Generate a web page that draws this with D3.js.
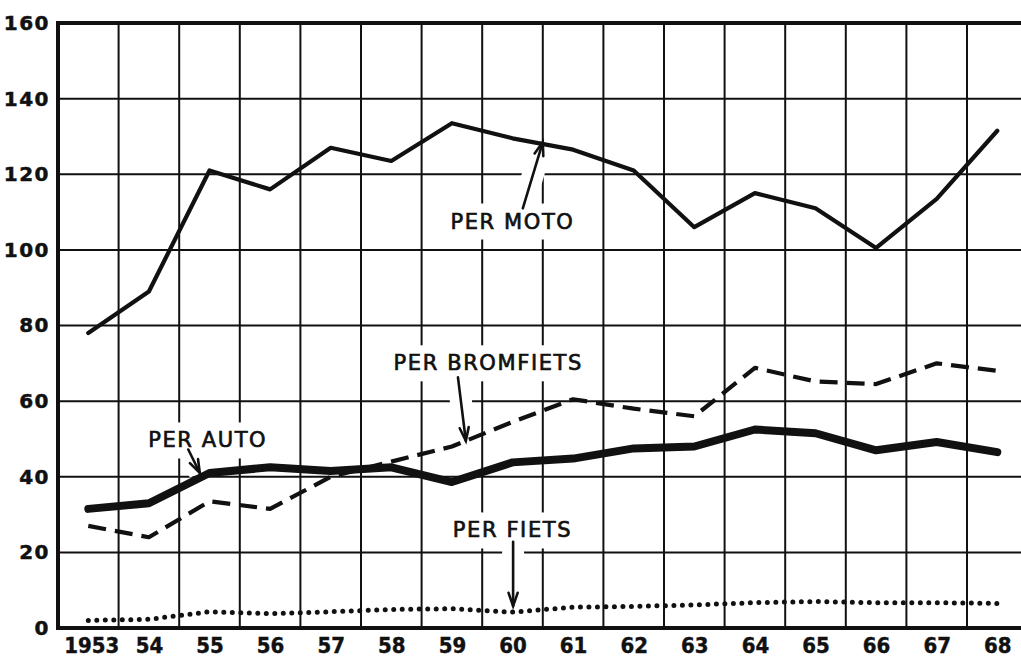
<!DOCTYPE html>
<html>
<head>
<meta charset="utf-8">
<script src="https://cdn.jsdelivr.net/npm/d3@7"></script>
<style>
  html, body { margin: 0; padding: 0; background: #fff; }
  svg { display: block; }
</style>
</head>
<body>
<svg id="chart" width="1021" height="660"></svg>
<script>
// years on the x axis
const years = [1953, 1954, 1955, 1956, 1957, 1958, 1959, 1960, 1961, 1962, 1963, 1964, 1965, 1966, 1967, 1968];
const yearLabels = ['1953', '54', '55', '56', '57', '58', '59', '60', '61', '62', '63', '64', '65', '66', '67', '68'];
const yTicks = [0, 20, 40, 60, 80, 100, 120, 140, 160];

const perMoto = [78, 89, 121, 116, 127, 123.5, 133.5, 129.5, 126.5, 121, 106, 115, 111, 100.5, 113.5, 131.5];
const perBromfiets = [27, 24, 33.5, 31.5, 40, 44, 48, 54.5, 60.5, 58, 56, 68.8, 65.2, 64.5, 70, 68];
const perAuto = [31.5, 33, 41, 42.5, 41.5, 42.5, 38.6, 43.8, 44.8, 47.5, 48, 52.5, 51.5, 47, 49.2, 46.5];
const perFiets = [2, 2.3, 4.3, 3.8, 4.3, 4.9, 5.1, 4.2, 5.5, 5.7, 6.1, 6.7, 7, 6.7, 6.7, 6.5];

// label text, text anchor and arrow (tail -> head) in data units
const labels = [
  { text: 'PER MOTO', at: [1960.0, 107.5], from: [1960.17, 111], to: [1960.5, 128.5] },
  { text: 'PER BROMFIETS', at: [1959.6, 70], from: [1959.1, 66.3], to: [1959.23, 49.5] },
  { text: 'PER AUTO', at: [1954.97, 49.6], from: [1954.65, 47.2], to: [1954.84, 41] },
  { text: 'PER FIETS', at: [1960.0, 25.8], from: [1960.01, 22.8], to: [1960.01, 5.8] }
];

const svg = d3.select('#chart');
const width = +svg.attr('width');

const x = d3.scaleLinear().domain([1952.5, 1968.5]).range([58, 1027.6]);
const y = d3.scaleLinear().domain([0, 160]).range([628, 23]);

const ink = '#111';

// grid
const grid = svg.append('g').attr('stroke', ink);
grid.selectAll('line.h')
  .data(yTicks.filter(v => v > 0 && v < 160))
  .enter().append('line')
  .attr('x1', x(1952.5)).attr('x2', width)
  .attr('y1', d => y(d)).attr('y2', d => y(d))
  .attr('stroke-width', 2);
grid.selectAll('line.v')
  .data(d3.range(1953.5, 1968, 1))
  .enter().append('line')
  .attr('x1', d => x(d)).attr('x2', d => x(d))
  .attr('y1', y(160)).attr('y2', y(0))
  .attr('stroke-width', 2);

// white patches behind arrows
const patches = svg.append('g');
labels.forEach(l => {
  patches.append('line')
    .attr('x1', x(l.from[0])).attr('y1', y(l.from[1]))
    .attr('x2', x(l.to[0])).attr('y2', y(l.to[1]))
    .attr('stroke', '#fff').attr('stroke-width', 22);
});

// frame: top, left, bottom
svg.append('line').attr('x1', x(1952.5)).attr('x2', width)
  .attr('y1', y(160)).attr('y2', y(160))
  .attr('stroke', ink).attr('stroke-width', 4);
svg.append('line').attr('x1', x(1952.5) - 2).attr('x2', width)
  .attr('y1', y(0)).attr('y2', y(0))
  .attr('stroke', ink).attr('stroke-width', 4);
svg.append('line').attr('x1', x(1952.5)).attr('x2', x(1952.5))
  .attr('y1', y(160) - 2).attr('y2', y(0) + 2)
  .attr('stroke', ink).attr('stroke-width', 4);

// axes
const yAxis = d3.axisLeft(y).tickValues(yTicks).tickSize(0).tickPadding(8).tickFormat(d3.format('d'));
svg.append('g')
  .attr('transform', `translate(${x(1952.5)},0)`)
  .call(yAxis)
  .call(g => g.select('.domain').remove())
  .selectAll('text')
  .attr('font-family', 'DejaVu Sans')
  .attr('font-weight', 'bold')
  .attr('font-size', 20)
  .attr('letter-spacing', 1.5)
  .attr('stroke', ink).attr('stroke-width', 0.5)
  .attr('fill', ink);

const xAxis = d3.axisBottom(x).tickValues(years).tickSize(0).tickPadding(9)
  .tickFormat((d, i) => yearLabels[i]);
svg.append('g')
  .attr('transform', `translate(0,${y(0)})`)
  .call(xAxis)
  .call(g => g.select('.domain').remove())
  .selectAll('text')
  .attr('font-family', 'DejaVu Sans Condensed, DejaVu Sans')
  .attr('font-weight', 'bold')
  .attr('font-size', 22)
  .attr('dx', (d, i) => i === 0 ? 3 : 0)
  .attr('stroke', ink).attr('stroke-width', 0.4)
  .attr('fill', ink);

// label boxes
const labelG = svg.append('g');
labels.forEach(l => {
  const t = labelG.append('text')
    .attr('x', x(l.at[0])).attr('y', y(l.at[1]))
    .attr('text-anchor', 'middle')
    .attr('dominant-baseline', 'central')
    .attr('font-family', 'DejaVu Sans')
    .attr('font-size', 21)
    .attr('letter-spacing', 1.6)
    .attr('stroke', ink).attr('stroke-width', 0.7)
    .attr('fill', ink)
    .text(l.text);
  const b = t.node().getBBox();
  labelG.insert('rect', 'text')
    .attr('x', b.x - 10).attr('y', b.y - 6)
    .attr('width', b.width + 20).attr('height', b.height + 12)
    .attr('fill', '#fff');
});

// series
const line = d3.line().x((d, i) => x(years[i])).y(d => y(d));
const series = svg.append('g').attr('fill', 'none').attr('stroke', ink)
  .attr('stroke-linejoin', 'round');

series.append('path').datum(perFiets)
  .attr('d', line)
  .attr('stroke-width', 5)
  .attr('stroke-linecap', 'round')
  .attr('stroke-dasharray', '0 8.5');

series.append('path').datum(perBromfiets)
  .attr('d', line)
  .attr('stroke-width', 4.2)
  .attr('stroke-dasharray', '18 9');

series.append('path').datum(perAuto)
  .attr('d', line)
  .attr('stroke-width', 8)
  .attr('stroke-linecap', 'round');

series.append('path').datum(perMoto)
  .attr('d', line)
  .attr('stroke-width', 4.2)
  .attr('stroke-linecap', 'round');

// arrows
const arrows = svg.append('g').attr('stroke', ink).attr('fill', 'none')
  .attr('stroke-width', 2.6).attr('stroke-linecap', 'round');
labels.forEach(l => {
  const x1 = x(l.from[0]), y1 = y(l.from[1]);
  const x2 = x(l.to[0]), y2 = y(l.to[1]);
  const a = Math.atan2(y2 - y1, x2 - x1);
  const len = 14, spread = 0.33;
  arrows.append('line').attr('x1', x1).attr('y1', y1).attr('x2', x2).attr('y2', y2);
  arrows.append('path').attr('d',
    `M${x2 - len * Math.cos(a - spread)},${y2 - len * Math.sin(a - spread)}` +
    `L${x2},${y2}` +
    `L${x2 - len * Math.cos(a + spread)},${y2 - len * Math.sin(a + spread)}`);
});
</script>
</body>
</html>
